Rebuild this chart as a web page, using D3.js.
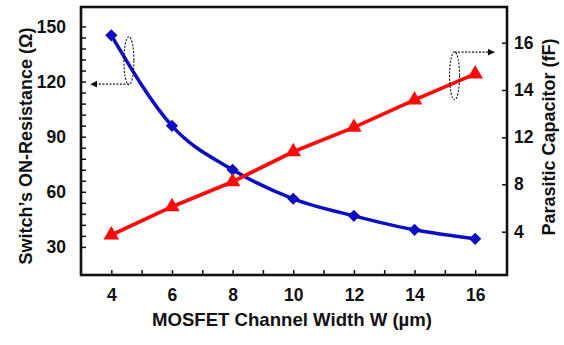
<!DOCTYPE html>
<html>
<head>
<meta charset="utf-8">
<script src="https://cdn.jsdelivr.net/npm/d3@7"></script>
<style>
  html, body { margin: 0; padding: 0; background: #fff; }
  svg text { font-family: "Liberation Sans", Arial, sans-serif; font-weight: bold; fill: #111; }
</style>
</head>
<body>
<div id="chart"></div>
<script>
// Channel width W (um)
var widths = [4, 6, 8, 10, 12, 14, 16];
// Switch ON-resistance (ohm), left axis
var resistance = [145.2, 95.9, 72.0, 56.2, 46.9, 39.3, 34.4];
// Parasitic capacitor (fF), right axis
var capacitance = [3.72, 6.11, 8.22, 10.77, 12.42, 13.58, 14.68];

var xTicks = [4, 6, 8, 10, 12, 14, 16];
var leftTicks = [30, 60, 90, 120, 150];
// the right axis in the figure is labelled unevenly: 4, 8, 12, 14, 16
var rightTicks = [4, 8, 12, 14, 16];

var W = 564, H = 345;
var m = { l: 81, r: 57, t: 7, b: 70 };

var svg = d3.select("#chart").append("svg")
  .attr("width", W)
  .attr("height", H);

var x = d3.scaleLinear().domain([3, 17.05]).range([m.l, W - m.r]);
var yL = d3.scaleLinear().domain([14.7, 160.6]).range([H - m.b, m.t]);
// piecewise scale so the uneven right-hand labels land where they were drawn
var yR = d3.scaleLinear().domain(rightTicks).range([231.7, 184.3, 137.3, 90, 42.7]);

// Axes (ticks point into the plot)
var xAxis = d3.axisBottom(x)
  .tickValues(d3.range(4, 17, 1))
  .tickSizeInner(-5).tickSizeOuter(0)
  .tickPadding(14)
  .tickFormat(function(d) { return xTicks.indexOf(d) >= 0 ? d : ""; });

var leftAxis = d3.axisLeft(yL)
  .tickValues(d3.range(30, 151, 6))
  .tickSizeInner(-5).tickSizeOuter(0)
  .tickPadding(15)
  .tickFormat(function(d) { return leftTicks.indexOf(d) >= 0 ? d : ""; });

var rightAxis = d3.axisRight(yR)
  .tickValues(rightTicks)
  .tickSizeInner(-5).tickSizeOuter(0)
  .tickPadding(12);

function styleAxis(g) {
  g.select(".domain").remove();
  g.selectAll(".tick line").attr("stroke", "#111").attr("stroke-width", 1.5);
  g.selectAll(".tick text")
    .attr("font-size", 17.5)
    .style("font-family", "'Liberation Sans', Arial, sans-serif")
    .style("font-weight", "bold");
}

svg.append("g")
  .attr("transform", "translate(0," + (H - m.b) + ")")
  .call(xAxis).call(styleAxis);

svg.append("g")
  .attr("transform", "translate(" + m.l + ",0)")
  .call(leftAxis).call(styleAxis);

var rAx = svg.append("g")
  .attr("transform", "translate(" + (W - m.r) + ",0)")
  .call(rightAxis).call(styleAxis);
rAx.selectAll(".tick text").attr("text-anchor", "start").attr("x", 7);

// Frame
svg.append("rect")
  .attr("x", m.l).attr("y", m.t)
  .attr("width", W - m.r - m.l)
  .attr("height", H - m.b - m.t)
  .attr("fill", "none")
  .attr("stroke", "#111")
  .attr("stroke-width", 2.6);

// Titles
svg.append("text")
  .attr("x", (m.l + W - m.r) / 2 - 2)
  .attr("y", 326)
  .attr("text-anchor", "middle")
  .attr("font-size", 18.6)
  .text("MOSFET Channel Width W (\u00b5m)");

svg.append("text")
  .attr("transform", "translate(32," + 146 + ") rotate(-90)")
  .attr("text-anchor", "middle")
  .attr("font-size", 18)
  .text("Switch\u2019s ON-Resistance (\u03a9)");

svg.append("text")
  .attr("transform", "translate(555," + 137 + ") rotate(-90)")
  .attr("text-anchor", "middle")
  .attr("font-size", 18)
  .text("Parasitic Capacitor (fF)");

// Data series
var blueData = widths.map(function(w, i) { return { w: w, v: resistance[i] }; });
var redData = widths.map(function(w, i) { return { w: w, v: capacitance[i] }; });

var blue = "#0d0dc4", red = "#ff0a0a";

svg.append("path")
  .datum(blueData)
  .attr("fill", "none")
  .attr("stroke", blue)
  .attr("stroke-width", 3.5)
  .attr("d", d3.line()
    .curve(d3.curveMonotoneX)
    .x(function(d) { return x(d.w); })
    .y(function(d) { return yL(d.v); }));

svg.append("path")
  .datum(redData)
  .attr("fill", "none")
  .attr("stroke", red)
  .attr("stroke-width", 3.7)
  .attr("d", d3.line()
    .x(function(d) { return x(d.w); })
    .y(function(d) { return yR(d.v); }));

svg.selectAll(".diamond")
  .data(blueData)
  .enter().append("path")
  .attr("class", "diamond")
  .attr("fill", blue)
  .attr("transform", function(d) { return "translate(" + x(d.w) + "," + yL(d.v) + ")"; })
  .attr("d", d3.symbol().type(d3.symbolDiamond2).size(95));

svg.selectAll(".tri")
  .data(redData)
  .enter().append("path")
  .attr("class", "tri")
  .attr("fill", red)
  .attr("transform", function(d) { return "translate(" + x(d.w) + "," + yR(d.v) + ")"; })
  .attr("d", d3.symbol().type(d3.symbolTriangle).size(105));

// Annotation: dashed ellipses with arrows pointing to the matching axis
var defs = svg.append("defs");
defs.append("marker")
  .attr("id", "ah")
  .attr("viewBox", "0 0 10 10")
  .attr("refX", 9).attr("refY", 5)
  .attr("markerWidth", 7).attr("markerHeight", 7)
  .attr("markerUnits", "userSpaceOnUse")
  .attr("orient", "auto")
  .append("path")
  .attr("d", "M0,0 L10,5 L0,10 Z")
  .attr("fill", "#111");

function callout(cx, cy, ay, tipX) {
  var ex = x(cx), ey = cy, py = ay;
  svg.append("ellipse")
    .attr("cx", ex).attr("cy", ey)
    .attr("rx", 5).attr("ry", 24)
    .attr("fill", "none")
    .attr("stroke", "#111")
    .attr("stroke-width", 1.1)
    .attr("stroke-dasharray", "2,1.5");
  svg.append("line")
    .attr("x1", ex).attr("y1", py)
    .attr("x2", tipX).attr("y2", py)
    .attr("stroke", "#111")
    .attr("stroke-width", 1.1)
    .attr("stroke-dasharray", "2,1.5")
    .attr("marker-end", "url(#ah)");
}

callout(4.58, yL(131.3), yL(118.6), 91);
callout(15.32, yR(14.6), yR(15.6), 494);
</script>
</body>
</html>
